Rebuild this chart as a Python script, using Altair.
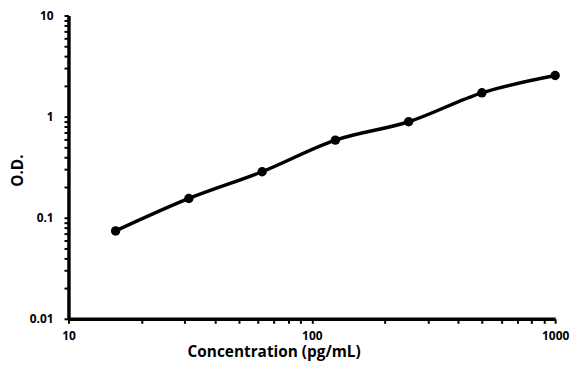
import altair as alt
import pandas as pd

conc = [15.625, 31.25, 62.5, 125, 250, 500, 1000]
od = [0.074, 0.155, 0.285, 0.585, 0.89, 1.72, 2.55]

x_ticks = [10, 20, 30, 40, 50, 60, 70, 80, 90, 100, 200, 300, 400, 500, 600, 700, 800, 900, 1000]
y_ticks = [0.01, 0.02, 0.03, 0.04, 0.05, 0.06, 0.07, 0.08, 0.09,
           0.1, 0.2, 0.3, 0.4, 0.5, 0.6, 0.7, 0.8, 0.9,
           1, 2, 3, 4, 5, 6, 7, 8, 9, 10]

df = pd.DataFrame({"conc": conc, "od": od})

FONT = "Open Sans"

x_test = "indexof([10,100,1000], datum.value) >= 0"
y_test = "indexof([0.01,0.1,1,10], datum.value) >= 0"

x_axis = alt.Axis(
    values=x_ticks,
    labelExpr=f"({x_test}) ? toString(datum.value) : ''",
    labelPadding=7, labelOverlap=False, labelFlush=False,
    title="Concentration (pg/mL)", titlePadding=4, titleX=207,
)
y_axis = alt.Axis(
    values=y_ticks,
    labelExpr=f"({y_test}) ? toString(datum.value) : ''",
    labelPadding=11, labelOverlap=False, labelFlush=False,
    title="O.D.", titlePadding=4, titleY=156,
)

x = alt.X("conc:Q", scale=alt.Scale(type="log", domain=[10, 1000], nice=False), axis=x_axis)
y = alt.Y("od:Q", scale=alt.Scale(type="log", domain=[0.01, 10], nice=False), axis=y_axis)

line = alt.Chart(df).mark_line(color="black", strokeWidth=3.5, interpolate="monotone").encode(x=x, y=y)
pts = alt.Chart(df).mark_circle(color="black", size=90, opacity=1).encode(x=x, y=y)

chart = (
    (line + pts)
    .properties(width=491, height=306,
                padding={"left": 61, "top": 6, "right": 17, "bottom": 45},
                autosize=alt.AutoSizeParams(type="none"))
    .configure_view(stroke=None)
    .configure_axis(
        domain=True, domainWidth=3.5, domainColor="black",
        ticks=True, tickSize=4.5, tickWidth=2, tickColor="black",
        grid=False, labelFont=FONT, labelFontSize=12, labelFontWeight="bold",
        labelColor="black", titleFont=FONT, titleFontSize=15.5,
        titleFontWeight="bold", titleColor="black",
    )
)

chart.save("out.html", embed_options={"renderer": "svg", "actions": False})
